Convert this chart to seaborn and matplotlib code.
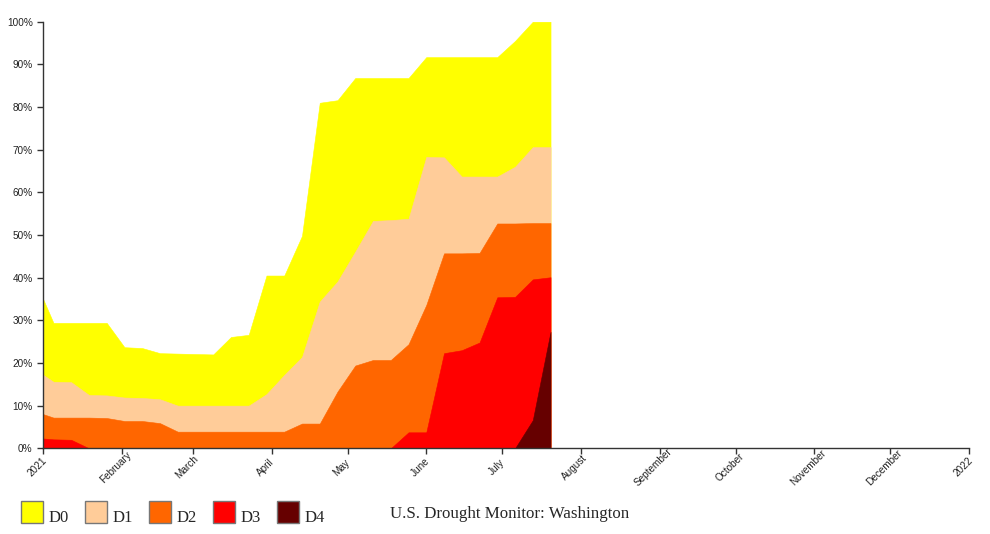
import numpy as np
import pandas as pd
import matplotlib
matplotlib.use("Agg")
import matplotlib.pyplot as plt
from matplotlib.patches import Rectangle
from matplotlib.transforms import ScaledTranslation
import seaborn as sns

# weekly USDM maps, Washington (cumulative percent of area)
weeks = pd.date_range("2020-12-29", "2021-07-20", freq="7D")
d0_d4 = [39.0, 29.4, 29.4, 29.4, 29.4, 23.7, 23.5, 22.3, 22.2, 22.1, 22.0, 26.1, 26.6, 40.5, 40.5,
         49.8, 81.0, 81.6, 86.8, 86.8, 86.8, 86.8, 91.7, 91.7, 91.7, 91.7, 91.7, 95.5, 100.0, 100.0]
d1_d4 = [18.4, 15.6, 15.5, 12.5, 12.4, 11.9, 11.8, 11.5, 10.0, 10.0, 10.0, 10.0, 10.0, 12.7, 17.2,
         21.4, 34.4, 39.1, 46.1, 53.3, 53.5, 53.8, 68.3, 68.2, 63.7, 63.7, 63.7, 66.0, 70.6, 70.6]
d2_d4 = [8.6, 7.2, 7.2, 7.2, 7.1, 6.4, 6.4, 5.9, 3.9, 3.9, 3.9, 3.9, 3.9, 3.9, 3.9,
         5.8, 5.8, 13.3, 19.4, 20.7, 20.7, 24.4, 33.6, 45.7, 45.7, 45.8, 52.7, 52.7, 52.8, 52.8]
d3_d4 = [2.45, 2.1, 2.0] + [0.0] * 18 + [3.75, 3.75, 22.3, 23.0, 24.8, 35.4, 35.5, 39.6, 40.1]
d4 = [0.0] * 28 + [6.6, 27.3]

categories = ["D0", "D1", "D2", "D3", "D4"]
colors = ["#FFFF00", "#FFCC99", "#FF6600", "#FF0000", "#660000"]
month_labels = ["2021", "February", "March", "April", "May", "June", "July", "August",
                "September", "October", "November", "December", "2022"]
title = "U.S. Drought Monitor: Washington"

df = pd.DataFrame({"date": weeks, "D0": d0_d4, "D1": d1_d4, "D2": d2_d4, "D3": d3_d4, "D4": d4})

sns.set_theme(style="ticks")
plt.rcParams["font.family"] = ["Liberation Sans", "DejaVu Sans"]
serif = ["Liberation Serif", "DejaVu Serif"]

W, H = 990, 534
fig = plt.figure(figsize=(W / 100, H / 100), dpi=100)
ax = fig.add_axes([43.3 / W, 1 - 448.3 / H, (969 - 43.3) / W, (448.3 - 21.7) / H])

# each layer drawn from zero, bigger categories underneath
for cat, col in zip(categories, colors):
    ax.fill_between(df["date"], 0, df[cat], color=col, linewidth=0.4, edgecolor=col)

ax.set_xlim(pd.Timestamp("2021-01-01"), pd.Timestamp("2022-01-01"))
ax.set_ylim(0, 100)

ticks = pd.date_range("2021-01-01", "2022-01-01", freq="MS")
ax.set_xticks(ticks)
ax.set_xticklabels([])
# month labels: rotated, centred a little left of and below each tick
label_tr = ax.get_xaxis_transform() + ScaledTranslation(-6 / 100, -19 / 100, fig.dpi_scale_trans)
for t, lab in zip(ticks, month_labels):
    ax.text(t, 0, lab, transform=label_tr, rotation=45, rotation_mode="anchor",
            ha="center", va="center", fontsize=7.2, color="#222222", clip_on=False)

ax.set_yticks(np.arange(0, 101, 10))
ax.set_yticklabels([f"{v}%" for v in range(0, 101, 10)], fontsize=7.2)
ax.tick_params(axis="both", length=4.3, width=1, color="#333333", labelcolor="#222222")
ax.tick_params(axis="y", pad=3.3)
ax.set_xlabel("")
ax.set_ylabel("")
sns.despine(ax=ax)
for side in ["left", "bottom"]:
    ax.spines[side].set_color("#333333")
    ax.spines[side].set_linewidth(1)

# legend boxes along the bottom
for i, (cat, col) in enumerate(zip(categories, colors)):
    x0 = 21 + 64 * i
    fig.add_artist(Rectangle((x0 / W, 1 - 523 / H), 22 / W, 22 / H, transform=fig.transFigure,
                             facecolor=col, edgecolor="#777777", linewidth=1))
    fig.text((x0 + 28) / W, 1 - 521.7 / H, cat, va="baseline", ha="left", fontsize=12,
             family=serif)

fig.text(389.5 / W, 1 - 518.3 / H, title, va="baseline", ha="left", fontsize=12.2, family=serif)

fig.savefig("out.png", dpi=100)
